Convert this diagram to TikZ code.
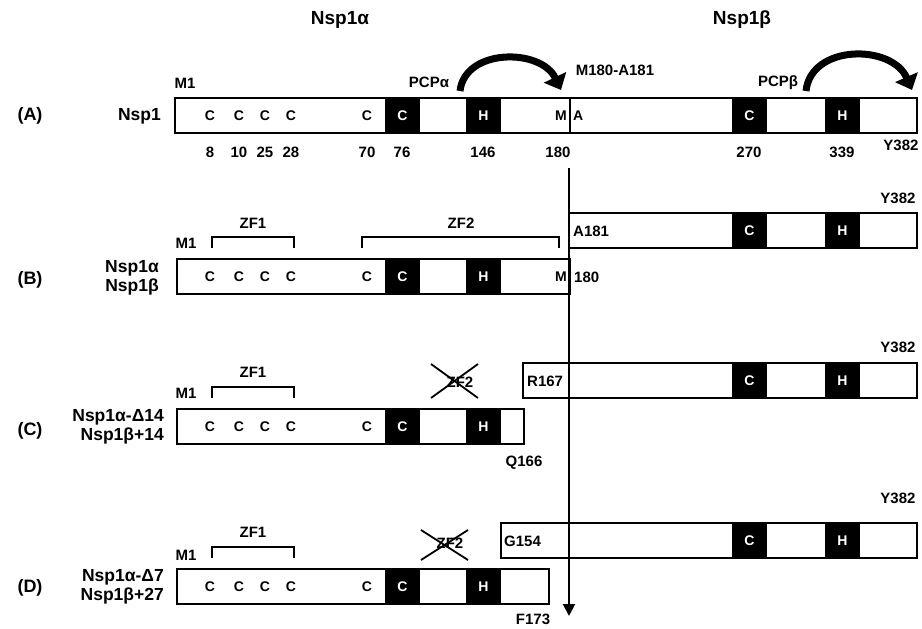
\documentclass[tikz,border=0pt]{standalone}
\usepackage{fontspec}
\setmainfont{Liberation Sans}
\usetikzlibrary{arrows.meta, positioning}

\newcommand{\alphadomain}[2]{%
  \foreach \cx [count=\i] in {210,239,265,291,367}
    \node[res] (cys\i#2) at (\cx,#1+17.5) {C};
  \node[blk] (zc#2) at (385,#1) {C};
  \node[blk] (zh#2) at (466,#1) {H};}
\newcommand{\betadomain}[2]{%
  \node[blk] (bc#2) at (732,#1) {C};
  \node[blk] (bh#2) at (825,#1) {H};}

\begin{document}
\begin{tikzpicture}[x=1pt, y=-1pt, font=\bfseries,
  seg/.style={draw, line width=1.8pt, minimum height=35pt, inner sep=0pt,
    outer sep=0pt, anchor=north west},
  blk/.style={fill=black, text=white, minimum width=35pt, minimum height=35pt,
    inner sep=0pt, outer sep=0pt, anchor=north west,
    font=\bfseries\fontsize{14}{16}\selectfont},
  res/.style={inner sep=0pt, font=\bfseries\fontsize{14}{16}\selectfont},
  lbl/.style={inner sep=0pt, font=\bfseries\fontsize{15}{18}\selectfont},
  rowname/.style={inner sep=0pt, align=right, anchor=east,
    font=\bfseries\fontsize{17.5}{19.5}\selectfont},
  panel/.style={inner sep=0pt, font=\bfseries\fontsize{18}{20}\selectfont},
  heading/.style={inner sep=0pt, font=\bfseries\fontsize{19}{22}\selectfont},
  zf/.style={line width=1.8pt},
  cleave/.style={line width=7pt, -{Triangle[length=14pt, width=24pt]}},
  cutline/.style={line width=2pt, -{Triangle[length=12pt, width=12pt]}},
]
\useasboundingbox (0,0) rectangle (922,629);

% titles
\node[heading] (ttla) at (340,20) {Nsp1α};
\node[heading] (ttlb) at (742,20) {Nsp1β};

% (A) full-length Nsp1
\node[panel] (pa) at (30,116) {(A)};
\node[rowname] (nsp1) at (161,116) {Nsp1};
\node[seg, minimum width=742pt] (protA) at (175,98) {};
\draw[line width=1.8pt] (570,98) -- (570,134);
\alphadomain{98}{a}
\betadomain{98}{a}
\node[res] (meta) at (561,116) {M};
\node[res, anchor=west] (alaa) at (573,116) {A};
\node[lbl] (m1a) at (185,83) {M1};
\foreach \nx/\nt in {210/8,239/10,265/25,291/28,367/70,402/76,483/146,558/180,749/270,842/339}
  \node[lbl] (num\nt) at (\nx,152) {\nt};
\node[lbl] (ya) at (901,145) {Y382};
\node[lbl] (pcpa) at (429,82) {PCPα};
\node[lbl] (pcpb) at (778,83) {PCPβ};
\node[lbl] (site) at (615,70) {M180-A181};
\coordinate (pcpatail) at (460,91);
\coordinate (sitea) at (561,90);
\draw[cleave] (pcpatail) .. controls +(5,-43) and +(-20,-42) .. (sitea);
\coordinate (pcpbtail) at (806,91);
\coordinate (siteb) at (912,90);
\draw[cleave] (pcpbtail) .. controls +(5,-47) and +(-20,-46) .. (siteb);

% (B) Nsp1alpha / Nsp1beta
\node[panel] (pb) at (30,280) {(B)};
\node[rowname] (nspb) at (159,278) {Nsp1α\\Nsp1β};
\node[seg, minimum width=348pt] (betaB) at (569,213) {};
\betadomain{213}{b}
\node[lbl, anchor=west] (a181) at (573,231) {A181};
\node[lbl] (yb) at (898,198) {Y382};
\node[seg, minimum width=393pt] (alphaB) at (177,259) {};
\alphadomain{259}{b}
\node[res] (metb) at (561,277) {M};
\node[lbl, anchor=west] (m180) at (574,277) {180};
\node[lbl] (m1b) at (186,243) {M1};
\draw[zf] (212,248) -- (212,237) -- (294,237) -- (294,248);
\node[lbl] (zf1b) at (253,223) {ZF1};
\draw[zf] (362,248) -- (362,237) -- (559,237) -- (559,248);
\node[lbl] (zf2b) at (461,223) {ZF2};

% (C) delta 14
\node[panel] (pc) at (30,431) {(C)};
\node[rowname] (nspc) at (164,427) {Nsp1α-Δ14\\Nsp1β+14};
\node[seg, minimum width=394pt] (betaC) at (523,363) {};
\betadomain{363}{c}
\node[lbl, anchor=west] (r167) at (527,381) {R167};
\node[lbl] (yc) at (898,347) {Y382};
\node[seg, minimum width=347pt] (alphaC) at (177,409) {};
\alphadomain{409}{c}
\node[lbl, below=12pt of alphaC.south east] (q166) {Q166};
\node[lbl] (m1c) at (186,393) {M1};
\draw[zf] (212,398) -- (212,387) -- (294,387) -- (294,398);
\node[lbl] (zf1c) at (253,372) {ZF1};
\node[lbl] (zf2c) at (460,382) {ZF2};
\draw[zf] (431,364) -- (478,398) (431,398) -- (478,364);

% (D) delta 7
\node[panel] (pd) at (30,588) {(D)};
\node[rowname] (nspd) at (164,587) {Nsp1α-Δ7\\Nsp1β+27};
\node[seg, minimum width=416pt] (betaD) at (501,523) {};
\betadomain{523}{d}
\node[lbl, anchor=west] (g154) at (504,541) {G154};
\node[lbl] (yd) at (898,498) {Y382};
\node[seg, minimum width=372pt] (alphaD) at (177,569) {};
\alphadomain{569}{d}
\node[lbl] (m1d) at (186,555) {M1};
\draw[zf] (212,558) -- (212,547) -- (294,547) -- (294,558);
\node[lbl] (zf1d) at (253,532) {ZF1};
\node[lbl] (zf2d) at (450,543) {ZF2};
\draw[zf] (421,530) -- (468,560) (421,560) -- (468,530);

% cleavage line
\coordinate (cuttop) at (569,168);
\coordinate (cutbot) at (569,616);
\draw[cutline] (cuttop) -- (cutbot);
\node[lbl] (f173) at (533,619) {F173};
\end{tikzpicture}
\end{document}
